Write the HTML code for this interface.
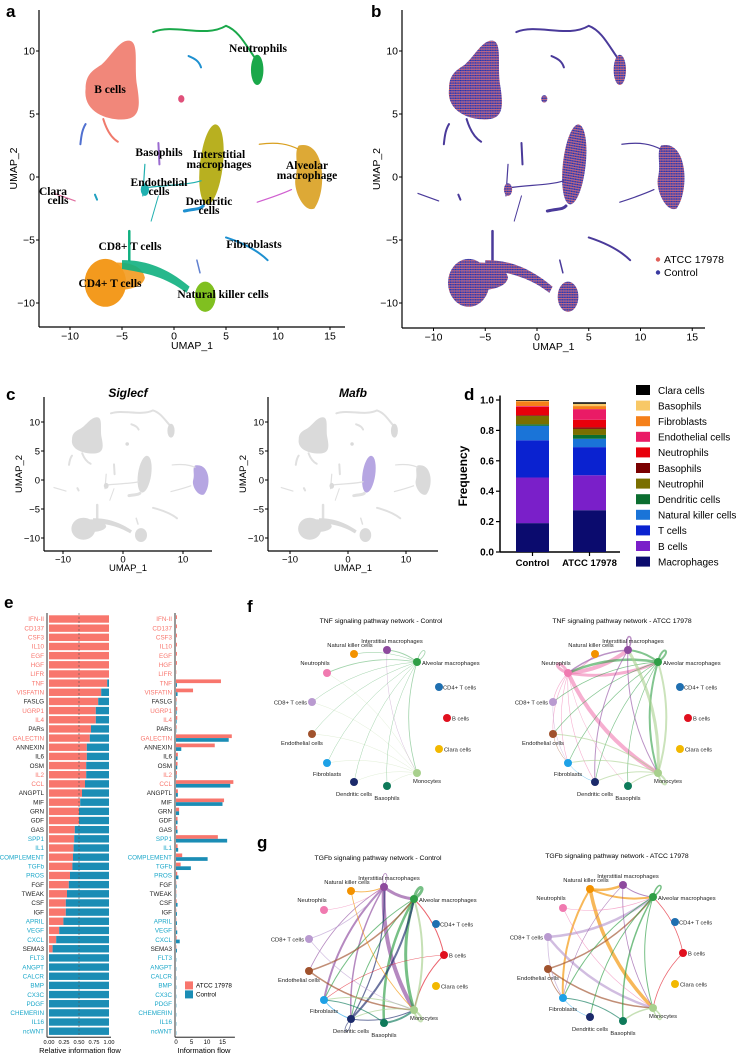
<!DOCTYPE html>
<html><head><meta charset="utf-8"><style>
html,body{margin:0;padding:0;background:#fff;}
svg{display:block;font-family:"Liberation Sans",sans-serif;}
</style></head><body>
<svg id="fig" xmlns="http://www.w3.org/2000/svg" width="740" height="1055" viewBox="0 0 740 1055">
<defs>
<pattern id="mix" patternUnits="userSpaceOnUse" width="0.24" height="0.2">
<rect width="0.24" height="0.2" fill="#8a70c0"/>
<circle cx="0.06" cy="0.05" r="0.065" fill="#3030a0"/>
<circle cx="0.18" cy="0.15" r="0.065" fill="#e0605a"/>
<circle cx="0.18" cy="0.05" r="0.05" fill="#3a3aa0"/>
</pattern>
</defs>
<g font-weight="bold" font-size="17" fill="#000">
<text x="6" y="17">a</text>
<text x="371" y="17">b</text>
<text x="6" y="400">c</text>
<text x="464" y="400">d</text>
<text x="4" y="608">e</text>
<text x="247" y="612">f</text>
<text x="257" y="848">g</text>
</g>
</svg>
<script>
const NS='http://www.w3.org/2000/svg';
const fig=document.getElementById('fig');
function mk(tag,attrs,parent){const e=document.createElementNS(NS,tag);for(const k in attrs)e.setAttribute(k,attrs[k]);(parent||fig).appendChild(e);return e;}
function tx(x,y,s,attrs,parent){const e=mk('text',Object.assign({x:x,y:y},attrs||{}),parent);e.textContent=s;return e;}

/* ---------- Panel d data ---------- */
const dGroups=['Control','ATCC 17978'];
const dCellTypes=['Macrophages','B cells','T cells','Natural killer cells','Dendritic cells','Neutrophil','Basophils','Neutrophils','Endothelial cells','Fibroblasts','Basophils','Clara cells'];
const dControl=[0.19,0.30,0.245,0.095,0.01,0.055,0.005,0.055,0.005,0.03,0.005,0.005];
const dATCC=[0.275,0.23,0.185,0.055,0.025,0.04,0.01,0.05,0.07,0.02,0.015,0.01];
const dColors=['#0b0b6e','#7a1fc9','#0a22d0','#1a74d8','#0b6e30','#7a6f00','#7a0000','#e8000b','#ea1b66','#f5801a','#f8c866','#000'];
const dTicks=[0,0.2,0.4,0.6,0.8,1.0];

/* ---------- Panel e data ---------- */
const ePathways=['IFN-II','CD137','CSF3','IL10','EGF','HGF','LIFR','TNF','VISFATIN','FASLG','UGRP1','IL4','PARs','GALECTIN','ANNEXIN','IL6','OSM','IL2','CCL','ANGPTL','MIF','GRN','GDF','GAS','SPP1','IL1','COMPLEMENT','TGFb','PROS','FGF','TWEAK','CSF','IGF','APRIL','VEGF','CXCL','SEMA3','FLT3','ANGPT','CALCR','BMP','CX3C','PDGF','CHEMERIN','IL16','ncWNT'];
const eEnriched=['a','a','a','a','a','a','a','a','a','n','a','a','n','a','n','n','n','a','a','n','n','n','n','n','c','c','c','c','c','n','n','n','n','c','c','c','n','c','c','c','c','c','c','c','c','c'];
const eRelATCC=[1,1,1,1,1,1,1,0.97,0.87,0.82,0.78,0.78,0.70,0.68,0.63,0.63,0.62,0.62,0.60,0.55,0.52,0.50,0.50,0.43,0.42,0.41,0.40,0.39,0.35,0.33,0.30,0.28,0.28,0.24,0.17,0.12,0.06,0,0,0,0,0,0,0,0,0];
const eFlowATCC=[0.3,0.3,0.3,0.3,0.3,0.3,0.1,14.5,5.5,0.2,0.4,0.4,0.2,18,12.5,0.6,0.5,0.3,18.5,0.6,15.5,1,0.5,0.4,13.5,0.5,2,1.5,0.4,0.1,0.1,0.2,0.1,0.1,0.1,0.2,0.1,0,0,0,0,0,0,0,0,0];
const eFlowControl=[0,0,0,0,0,0,0,0.3,0.5,0.1,0.2,0.2,0.1,17,1.7,0.5,0.4,0.2,17.5,0.6,15,1,0.5,0.5,16.5,0.7,10.2,4.8,0.8,0.2,0.1,0.5,0.3,0.3,0.4,1.2,0.3,0.1,0.1,0.1,0.1,0.1,0.1,0.1,0.1,0.1];
const eRelTicks=[0,0.25,0.5,0.75,1.0];
const eRelTickLabels=['0.00','0.25','0.50','0.75','1.00'];
const eFlowTicks=[0,5,10,15];

/* ---------- UMAP panels ---------- */
function umap(x0,y0,sx,sy,mode,name){
  const g=mk('g',{transform:`matrix(${sx},0,0,${-sy},${x0},${y0})`});
  
  
  const col=(c,hl)=>mode==='a'?c:(mode==='b'?'url(#mix)':(hl?'#b6a6e2':'#dadada'));
  const scol=(c)=>mode==='a'?c:(mode==='b'?'#4a3a9a':'#e0e0e0');
  const fill=(d,c,hl)=>mk('path',{d:d,fill:col(c,hl),opacity:mode==='a'?0.9:1},g);
  const line=(d,c,w)=>mk('path',{d:d,fill:'none',stroke:scol(c),'stroke-width':w,'vector-effect':'non-scaling-stroke','stroke-linecap':'round'},g);
  const hlA=mode==='c1', hlI=mode==='c2';
  fill('M-8.5,7 C-8.8,5 -6,4.4 -4.5,4.6 C-3.1,4.8 -3.3,6 -3.6,7.5 C-3.8,9 -3.4,10.6 -4.2,10.8 C-5.2,11 -6,9.6 -7,8.9 C-8,8.4 -8.5,8 -8.5,7Z','#f07a6c');
  line('M-6.8,4.6 C-6.4,3.5 -5.8,3 -5.4,2.8','#f07a6c',2);
  line('M-9,2.6 C-8.9,3.4 -8.8,3.8 -8.5,4.2','#5070d0',2);
  line('M-2,11.5 C0,12.2 3,11 5,12 C6.3,11.6 7,10.3 8,9.2','#1aa84a',2);
  mk('ellipse',{cx:8,cy:8.5,rx:0.6,ry:1.2,fill:col('#1aa84a')},g);
  line('M1.4,9.6 C2,9.4 2.4,9.2 2.6,8.7','#1e90d0',2);
  mk('circle',{cx:0.7,cy:6.2,r:0.3,fill:col('#e0507a')},g);
  mk('ellipse',{cx:3.6,cy:1,rx:1.1,ry:3.2,transform:'rotate(-8 3.6 1)',fill:col('#b8b020',hlI)},g);
  fill('M12,2.5 C14.5,3 14.8,-1 13.5,-2.5 C12.5,-2.9 11.4,-1 11.7,0 C12,1 11.5,2 12,2.5Z','#d9a020',hlA);
  line('M8.2,2.6 C10,2.8 11,2.6 12,2.2','#d9a020',1.2);
  line('M8,-2 C9.5,-1.6 10.5,-1.3 11.3,-1','#d060d0',1.2);
  line('M-1.5,2.7 L-1.4,1','#9a6ad0',2);
  line('M-2.8,1 L-3,-1.5','#20b0b0',1.2);
  line('M-3,-0.9 C-1,-0.6 1,-0.7 2.6,-0.3','#20b0b0',1.2);
  mk('ellipse',{cx:-2.8,cy:-1,rx:0.4,ry:0.5,fill:col('#20b0b0')},g);
  line('M-2.2,-3.5 L-1.5,-1.5','#20b0b0',1);
  line('M1,-2.7 C2,-2.5 2.5,-2.6 2.8,-2.3','#1e90d0',3);
  line('M-11.5,-1.3 L-9.5,-1.9','#e070a0',1.2);
  line('M-7.6,-1.4 L-7.4,-1.8','#20a0c0',2);
  mk('ellipse',{cx:-6.6,cy:-8.4,rx:2,ry:1.9,fill:col('#f39a1e')},g);
  fill('M-6,-6.8 C-4,-6.7 -3,-7.2 -2.8,-8 C-3,-8.8 -4.5,-9 -6,-9Z','#f39a1e');
  line('M-4.3,-4.3 L-4.3,-6.6','#10b080',2.5);
  fill('M-5,-6.6 C-3,-6.6 -1,-7 1.5,-8.7 L1.2,-9.2 C-1,-7.8 -3,-7.6 -5,-7.3Z','#10b080');
  mk('ellipse',{cx:3,cy:-9.5,rx:1,ry:1.2,fill:col('#80c020')},g);
  line('M5,-4.8 C6.5,-5.2 8,-5.8 9,-6.6','#1e90d0',2);
  line('M2.2,-6.6 L2.5,-7.6','#6080d0',1.5);
  return g;
}
function axesUmap(left,bottom,top,right,x0,sx,y0,sy,xt,yt,fs,name){
  const g=mk('g',{});
  
  
  mk('line',{x1:left,y1:top,x2:left,y2:bottom,stroke:'#000','stroke-width':1.2},g);
  mk('line',{x1:left,y1:bottom,x2:right,y2:bottom,stroke:'#000','stroke-width':1.2},g);
  yt.forEach(v=>{const y=y0-v*sy;mk('line',{x1:left-3,y1:y,x2:left,y2:y,stroke:'#000'},g);
    const t=tx(left-4,y+fs*0.35,v<0?'\u2212'+(-v):String(v),{'font-size':fs,'text-anchor':'end'},g);
    });
  xt.forEach(v=>{const x=x0+v*sx;mk('line',{x1:x,y1:bottom,x2:x,y2:bottom+3,stroke:'#000'},g);
    const t=tx(x,bottom+fs+2,v<0?'\u2212'+(-v):String(v),{'font-size':fs,'text-anchor':'middle'},g);
    });
  const xl=tx((left+right)/2,bottom+fs*2+1,'UMAP_1',{'font-size':fs,'text-anchor':'middle'},g);
  
  const yl=tx(0,0,'UMAP_2',{'font-size':fs,'text-anchor':'middle',transform:`translate(${left-22},${(top+bottom)/2}) rotate(-90)`},g);
  
}
umap(174,177,10.4,12.6,'a','umap-clusters');
axesUmap(39,327,10,345,174,10.4,177,12.6,[-10,-5,0,5,10,15],[10,5,0,-5,-10],10.5,'umap-a-axes');
const aLabels=[['B cells',110,93],['Neutrophils',258,52],['Basophils',159,156],['Interstitial',219,158],['macrophages',219,168],['Alveolar',307,169],['macrophage',307,179],['Clara',53,195],['cells',58,204],['Endothelial',159,186],['cells',159,195],['Dendritic',209,205],['cells',209,214],['CD8+ T cells',130,250],['Fibroblasts',254,248],['CD4+ T cells',110,287],['Natural killer cells',223,298]];
aLabels.forEach(l=>{const t=tx(l[1],l[2],l[0],{'font-size':11.5,'font-weight':'bold','font-family':'"Liberation Serif",serif','text-anchor':'middle'});
  });
umap(537,177,10.35,12.6,'b','umap-condition');
axesUmap(402,328,10,705,537,10.35,177,12.6,[-10,-5,0,5,10,15],[10,5,0,-5,-10],10.5,'umap-b-axes');
[['ATCC 17978','#e0605a',263],['Control','#3a3aa0',276]].forEach(l=>{
  const c=mk('circle',{cx:658,cy:l[2]-3.5,r:2.2,fill:l[1]});
  const t=tx(664,l[2],l[0],{'font-size':10.5});});
umap(123,480,6.0,5.8,'c1','umap-siglecf');
axesUmap(44,551,397,212,123,6.0,480,5.8,[-10,0,10],[10,5,0,-5,-10],9.5,'umap-siglecf-axes');
umap(348,480,5.8,5.8,'c2','umap-mafb');
axesUmap(268,551,397,438,348,5.8,480,5.8,[-10,0,10],[10,5,0,-5,-10],9.5,'umap-mafb-axes');
let t1=tx(128,397,'Siglecf',{'font-size':12,'font-weight':'bold','font-style':'italic','text-anchor':'middle'});

t1=tx(353,397,'Mafb',{'font-size':12,'font-weight':'bold','font-style':'italic','text-anchor':'middle'});


/* ---------- Panel d draw ---------- */
(function(){
  const y0=552, H=152, ax=500;
  const yS=v=>y0-v*H;
  const xC=[532.5,589.5], bw=33;
  mk('line',{x1:ax,y1:yS(1.03),x2:ax,y2:y0,stroke:'#000','stroke-width':1.5});
  mk('line',{x1:ax,y1:y0,x2:620,y2:y0,stroke:'#000','stroke-width':1.5});
  dTicks.forEach(v=>{mk('line',{x1:ax-4,y1:yS(v),x2:ax,y2:yS(v),stroke:'#000','stroke-width':1.2});
    const t=tx(ax-6,yS(v)+3.5,v.toFixed(1),{'font-size':10,'font-weight':'bold','text-anchor':'end'});
    });
  [dControl,dATCC].forEach((arr,gi)=>{let cum=0;
    arr.forEach((v,i)=>{const r=mk('rect',{x:xC[gi]-bw/2,y:yS(cum+v),width:bw,height:v*H,fill:dColors[i]});
      cum+=v;});
    mk('line',{x1:xC[gi],y1:y0,x2:xC[gi],y2:y0+4,stroke:'#000','stroke-width':1.2});
    const t=tx(xC[gi],y0+14,dGroups[gi],{'font-size':9.5,'font-weight':'bold','text-anchor':'middle'});
    });
  const yl=tx(0,0,'Frequency',{'font-size':12,'font-weight':'bold','text-anchor':'middle',transform:'translate(467,476) rotate(-90)'});
  
  for(let k=0;k<dCellTypes.length;k++){const i=dCellTypes.length-1-k;const y=390+k*15.6;
    const r=mk('rect',{x:636,y:y-5,width:14,height:10,fill:dColors[i]});
    const t=tx(658,y+3.8,dCellTypes[i],{'font-size':10});}
})();

/* ---------- Panel e draw ---------- */
(function(){
  const top=619, step=9.16, bh=7.4, salmon='#f8766d', blue='#1b8db5', teal='#1aa7c9';
  const lx0=49, lw=60, rx0=176, rs=3.1;
  const labCol={a:salmon,c:teal,n:'#222'};
  const yB=top+45*step+6;
  mk('line',{x1:lx0-2,y1:top-6,x2:lx0-2,y2:yB,stroke:'#000','stroke-width':0.8});
  mk('line',{x1:lx0-2,y1:yB,x2:lx0+lw+2,y2:yB,stroke:'#000','stroke-width':0.8});
  mk('line',{x1:rx0-1,y1:top-6,x2:rx0-1,y2:yB,stroke:'#000','stroke-width':0.8});
  mk('line',{x1:rx0-1,y1:yB,x2:rx0+rs*19,y2:yB,stroke:'#000','stroke-width':0.8});
  ePathways.forEach((p,i)=>{const yc=top+i*step;
    const r1=mk('rect',{x:lx0,y:yc-bh/2,width:lw*eRelATCC[i],height:bh,fill:salmon});
    const r2=mk('rect',{x:lx0+lw*eRelATCC[i],y:yc-bh/2,width:lw*(1-eRelATCC[i]),height:bh,fill:blue});
    const r3=mk('rect',{x:rx0,y:yc-bh/2,width:eFlowATCC[i]*rs,height:bh/2,fill:salmon});
    const r4=mk('rect',{x:rx0,y:yc,width:eFlowControl[i]*rs,height:bh/2,fill:blue});
    const a=tx(lx0-5,yc+2.2,p,{'font-size':6.3,'text-anchor':'end',fill:labCol[eEnriched[i]]});
    const b=tx(rx0-4,yc+2.2,p,{'font-size':6.3,'text-anchor':'end',fill:labCol[eEnriched[i]]});
  });
  mk('line',{x1:lx0+lw*0.5,y1:top-6,x2:lx0+lw*0.5,y2:yB,stroke:'#555','stroke-width':0.6,'stroke-dasharray':'2,2'});
  eRelTicks.forEach((v,i)=>{const t=tx(lx0+v*lw,yB+7,eRelTickLabels[i],{'font-size':5.6,'text-anchor':'middle'});});
  eFlowTicks.forEach(v=>{const t=tx(rx0+v*rs,yB+7,String(v),{'font-size':6,'text-anchor':'middle'});});
  let t=tx(80,yB+16,'Relative information flow',{'font-size':7.5,'text-anchor':'middle'});
  t=tx(204,yB+16,'Information flow',{'font-size':7.5,'text-anchor':'middle'});
  [['ATCC 17978',salmon],['Control',blue]].forEach((l,k)=>{const y=top+40*step+k*9;
    const r=mk('rect',{x:185,y:y-4,width:8,height:8,fill:l[1]});
    const tt=tx(196,y+2.3,l[0],{'font-size':6.3});});
})();

/* ---------- Panels f, g networks ---------- */
const nodeNames=['Interstitial macrophages','Natural killer cells','Alveolar macrophages','Neutrophils','CD4+ T cells','CD8+ T cells','B cells','Endothelial cells','Clara cells','Fibroblasts','Monocytes','Dendritic cells','Basophils'];
const nodeColors=['#8e4a9e','#f39200','#2e9e45','#f07ab0','#1f6fb0','#b99ad0','#e0101e','#a0522d','#f2b800','#1ea1e6','#a8d08d','#1b2a6b','#0e7a5a'];
const nodePos=[[387,650],[354,654],[417,662],[327,673],[439,687],[312,702],[447,718],[312,734],[439,749],[327,763],[417,773],[354,782],[387,786]];
const labelOff=[[5,-7,'middle'],[-4,-7,'middle'],[5,3,'start'],[-12,-8,'middle'],[4,2.5,'start'],[-5,2.5,'end'],[5,2.5,'start'],[-10,11,'middle'],[5,2.5,'start'],[0,13,'middle'],[10,10,'middle'],[0,14,'middle'],[0,14,'middle']];
const fCtrlEdges=[[2,0,1],[2,1,0.6],[2,3,0.8],[2,5,0.5],[2,7,0.5],[2,9,0.5],[2,11,0.5],[2,12,0.5],[2,10,0.8],[0,10,0.4],[10,3,0.4],[10,5,0.4],[10,7,0.4],[10,9,0.4],[10,11,0.4],[10,12,0.4],[2,2,0.8]];
const fAtccEdges=[[3,0,4],[3,2,3],[3,10,4],[3,1,1],[3,5,0.6],[3,7,0.6],[3,9,0.6],[3,11,0.6],[3,12,0.5],[3,3,3],[2,3,2.5],[2,0,2],[2,10,2],[2,7,0.7],[2,9,0.7],[2,11,0.7],[2,12,0.7],[2,5,0.7],[2,2,2],[0,10,1],[0,11,1],[0,3,1.5],[0,0,1.5],[10,0,3],[10,2,2],[10,9,1],[10,7,1],[10,11,1],[10,12,1],[10,10,2],[7,9,0.5],[5,9,0.5],[9,11,0.5]];
const gCtrlEdges=[[0,10,4],[0,9,2],[0,11,1.5],[0,7,0.8],[0,2,3],[0,0,0.8],[2,10,3],[2,12,2.5],[2,11,1],[2,9,1],[2,2,3],[11,2,2],[11,0,1.2],[11,10,1],[7,2,1.5],[7,10,1.5],[6,2,1],[6,10,1],[6,9,0.6],[1,0,1],[1,10,0.8],[10,2,2],[10,9,1],[10,11,1],[10,10,2],[12,10,2],[12,9,1],[9,11,1],[5,0,0.8],[5,10,0.6],[3,0,0.5],[11,11,0.8]];
const gAtccEdges=[[1,0,2.5],[1,10,3.5],[1,9,2],[1,2,2],[5,2,2.5],[5,10,2.5],[7,2,1.5],[7,10,1.5],[2,12,1.5],[2,9,1],[2,11,1],[2,10,1],[2,2,1.5],[0,2,1],[0,10,0.8],[0,9,0.6],[3,2,0.6],[3,10,0.6],[6,2,0.8],[6,10,0.8],[10,12,1.5],[10,10,1.5],[12,9,1],[9,11,0.6],[5,9,0.8],[7,9,0.8]];
function network(dx,dy,title,edges,alpha,name){
  const g=mk('g',{transform:`translate(${dx},${dy})`});
  
  
  const cx=380,cy=718;
  const tt=tx(381,623,title,{'font-size':6.8,'text-anchor':'middle'},g);
  
  edges.forEach(e=>{const [a,b,w]=e;const A=nodePos[a],B=nodePos[b];let d;
    if(a===b){const ux=A[0]-cx,uy=A[1]-cy,L=Math.hypot(ux,uy);const nx=ux/L,ny=uy/L;const px=-ny,py=nx;
      const c1=[A[0]+nx*18+px*7,A[1]+ny*18+py*7],c2=[A[0]+nx*18-px*7,A[1]+ny*18-py*7];
      d=`M${A[0]},${A[1]} C${c1[0]},${c1[1]} ${c2[0]},${c2[1]} ${A[0]},${A[1]}`;}
    else{const mx=(A[0]+B[0])/2,my=(A[1]+B[1])/2;const vx=B[0]-A[0],vy=B[1]-A[1];
      const qx=mx-vy*0.15,qy=my+vx*0.15;d=`M${A[0]},${A[1]} Q${qx},${qy} ${B[0]},${B[1]}`;}
    const p=mk('path',{d:d,fill:'none',stroke:nodeColors[a],'stroke-width':w,'stroke-opacity':alpha},g);
    });
  nodePos.forEach((n,i)=>{const c=mk('circle',{cx:n[0],cy:n[1],r:4,fill:nodeColors[i]},g);
    
    const o=labelOff[i];const t=tx(n[0]+o[0],n[1]+o[1],nodeNames[i],{'font-size':5.8,'text-anchor':o[2],fill:'#222'},g);
    });
}
network(0,0,'TNF signaling pathway network - Control',fCtrlEdges,0.45,'tnf-network-control');
network(241,0,'TNF signaling pathway network - ATCC 17978',fAtccEdges,0.6,'tnf-network-atcc');
network(-3,237,'TGFb signaling pathway network - Control',gCtrlEdges,0.65,'tgfb-network-control');
network(236,235,'TGFb signaling pathway network - ATCC 17978',gAtccEdges,0.65,'tgfb-network-atcc');
</script>
</body></html>
